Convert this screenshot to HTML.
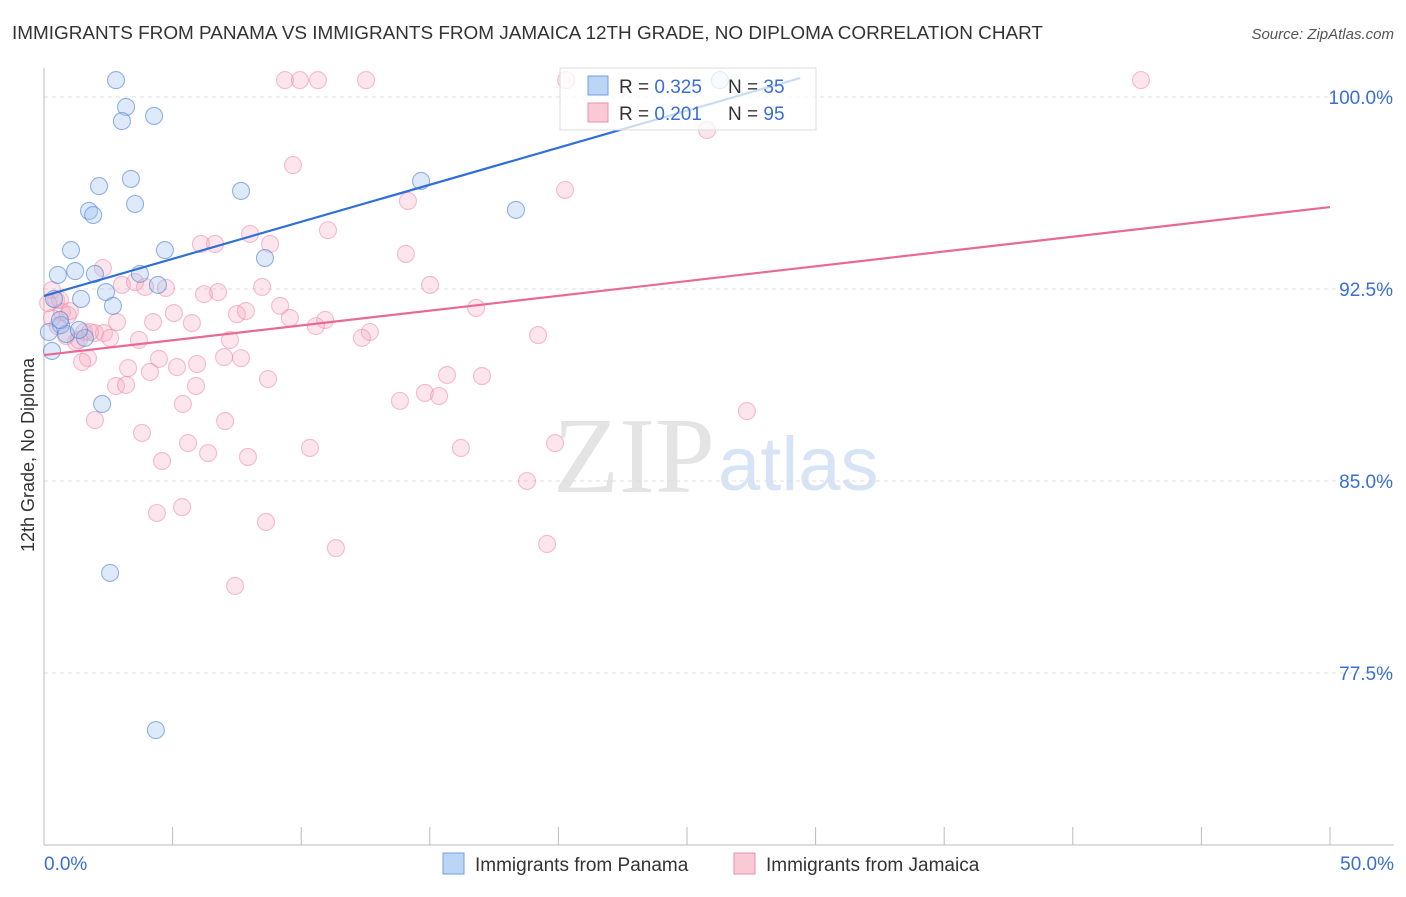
<!DOCTYPE html>
<html><head><meta charset="utf-8"><style>
body{margin:0;background:#fff;font-family:"Liberation Sans",sans-serif}
</style></head><body>
<svg id="chart" width="1406" height="892" xmlns="http://www.w3.org/2000/svg">
<text x="12" y="39" font-size="18.9" fill="#333" textLength="1031" lengthAdjust="spacingAndGlyphs">IMMIGRANTS FROM PANAMA VS IMMIGRANTS FROM JAMAICA 12TH GRADE, NO DIPLOMA CORRELATION CHART</text>
<text x="1394" y="39" font-size="15" fill="#555" font-style="italic" text-anchor="end">Source: ZipAtlas.com</text>
<text x="715" y="492" font-size="108" fill="#e4e4e4" text-anchor="end" font-family="Liberation Serif">ZIP</text>
<text x="718" y="490" font-size="76" fill="#d6e4f5">atlas</text>
<text transform="translate(34,455) rotate(-90)" font-size="18" fill="#333" text-anchor="middle">12th Grade, No Diploma</text>
<g id="grid"></g><g id="marks"></g>
<g>
<rect x="560" y="68" width="256" height="62" fill="rgba(255,255,255,0.75)" stroke="#ddd"/>
<rect x="588" y="76" width="20" height="19" fill="#bcd4f5" stroke="#6f9fe0"/>
<rect x="588" y="103" width="20" height="19" fill="#f9c9d6" stroke="#ec8fab"/>
<text x="619" y="93" font-size="19" fill="#333">R = <tspan fill="#3a6fd0">0.325</tspan></text>
<text x="728" y="93" font-size="19" fill="#333">N = <tspan fill="#3a6fd0">35</tspan></text>
<text x="619" y="120" font-size="19" fill="#333">R = <tspan fill="#3a6fd0">0.201</tspan></text>
<text x="728" y="120" font-size="19" fill="#333">N = <tspan fill="#3a6fd0">95</tspan></text>
</g>
<g>
<rect x="443" y="853" width="21" height="21" fill="#bcd4f5" stroke="#6f9fe0"/>
<text x="475" y="871" font-size="19" fill="#333">Immigrants from Panama</text>
<rect x="734" y="853" width="21" height="21" fill="#f9c9d6" stroke="#ec8fab"/>
<text x="766" y="871" font-size="19" fill="#333">Immigrants from Jamaica</text>
</g>
</svg>
<script>
const yTicks=[100,92.5,85,77.5];
const yTickLabels=["100.0%","92.5%","85.0%","77.5%"];
const xTickLabels=["0.0%","50.0%"];
const panamaX=[2.80,3.19,3.03,4.28,2.14,3.38,3.54,1.75,1.91,7.66,14.66,18.35,1.05,4.70,8.59,0.54,1.21,1.98,3.73,4.43,2.41,0.39,1.44,2.68,0.66,0.86,1.59,0.31,0.19,2.26,2.57,4.35,26.28,1.36,0.62];
const panamaY=[100.66,99.61,99.06,99.26,96.52,96.80,95.82,95.55,95.39,96.33,96.72,95.59,94.02,94.02,93.71,93.05,93.20,93.09,93.09,92.66,92.38,92.11,92.11,91.84,91.09,90.74,90.59,90.08,90.82,88.01,81.41,75.27,100.66,90.90,91.29];
const jamaicaX=[9.37,9.95,10.65,12.52,20.30,42.65,25.78,9.68,20.26,14.15,11.04,8.01,6.10,6.65,8.79,14.07,2.29,3.03,3.54,3.93,4.74,6.22,6.77,8.48,15.01,9.18,9.56,16.80,0.31,0.47,0.70,0.93,2.84,4.24,5.75,5.05,7.50,7.85,10.93,10.57,12.67,12.36,19.21,7.23,1.56,1.98,2.33,2.57,1.24,3.69,1.71,1.48,4.47,7.00,7.66,3.27,4.12,5.17,5.95,15.67,17.03,5.91,2.80,3.19,8.71,14.81,15.36,13.84,5.40,1.98,7.04,3.81,5.60,6.38,7.93,10.34,16.21,19.87,4.59,27.33,18.78,4.39,5.37,8.63,11.35,19.56,7.43,0.62,0.31,1.01,0.54,0.86,0.16,1.79,1.36];
const jamaicaY=[100.66,100.66,100.66,100.66,100.66,100.66,98.71,97.34,96.37,95.94,94.80,94.65,94.26,94.26,94.26,93.87,93.32,92.66,92.77,92.58,92.54,92.30,92.38,92.58,92.66,91.84,91.37,91.76,92.46,92.07,91.60,91.48,91.21,91.21,91.17,91.56,91.52,91.64,91.29,91.05,90.82,90.59,90.70,90.51,90.82,90.78,90.78,90.59,90.43,90.51,89.80,89.65,89.77,89.84,89.80,89.41,89.26,89.45,89.57,89.14,89.10,88.71,88.71,88.75,88.98,88.44,88.32,88.13,88.01,87.38,87.34,86.88,86.48,86.09,85.94,86.29,86.29,86.48,85.78,87.73,85.00,83.75,83.98,83.40,82.38,82.54,80.90,92.07,91.37,91.64,91.05,90.66,91.95,90.82,90.51];
const panamaTrendX=[0,29.4];
const panamaTrendY=[92.23,100.74];
const jamaicaTrendX=[0,50];
const jamaicaTrendY=[89.92,95.70];

const NS="http://www.w3.org/2000/svg";
const xS=v=>44+v/50*1286;
const yS=v=>97+(100-v)*25.6;
function mk(t,a,p){const e=document.createElementNS(NS,t);for(const k in a)e.setAttribute(k,a[k]);p.appendChild(e);return e;}
const grid=document.getElementById('grid'),marks=document.getElementById('marks');
yTicks.forEach((t,i)=>{
  const l=mk('line',{x1:44,x2:1394,y1:yS(t),y2:yS(t),stroke:'#ddd','stroke-dasharray':'4,4'},grid);
  
  
  const tx=mk('text',{x:1393,y:yS(t)+7,'font-size':19,fill:'#3a6fd0','text-anchor':'end'},grid);
  tx.textContent=yTickLabels[i];
  
  
});
const ax=mk('line',{x1:44,x2:44,y1:68,y2:845,stroke:'#bbb'},grid);


const bx=mk('line',{x1:44,x2:1394,y1:845,y2:845,stroke:'#bbb'},grid);


for(let i=0;i<=10;i++){const t=mk('line',{x1:xS(i*5),x2:xS(i*5),y1:827,y2:845,stroke:'#bbb'},grid);
  
  }
[[0,'start',44],[50,'end',1394]].forEach((d,i)=>{const t=mk('text',{x:d[2],y:870,'font-size':19,fill:'#3a6fd0','text-anchor':d[1]},grid);t.textContent=xTickLabels[i];
  
  });
jamaicaX.forEach((x,i)=>{const c=mk('circle',{cx:xS(x),cy:yS(jamaicaY[i]),r:8.5,fill:'rgba(246,170,192,0.3)',stroke:'rgba(236,130,160,0.5)','stroke-width':1.1},marks);
  
  });
panamaX.forEach((x,i)=>{const c=mk('circle',{cx:xS(x),cy:yS(panamaY[i]),r:8.5,fill:'rgba(160,196,240,0.35)',stroke:'rgba(80,130,210,0.6)','stroke-width':1.1},marks);
  
  });
const l1=mk('line',{x1:xS(panamaTrendX[0]),y1:yS(panamaTrendY[0]),x2:xS(panamaTrendX[1]),y2:yS(panamaTrendY[1]),stroke:'#2f6fd6','stroke-width':2.2},marks);


const l2=mk('line',{x1:xS(jamaicaTrendX[0]),y1:yS(jamaicaTrendY[0]),x2:xS(jamaicaTrendX[1]),y2:yS(jamaicaTrendY[1]),stroke:'#e86a93','stroke-width':2.2},marks);


</script>
</body></html>
